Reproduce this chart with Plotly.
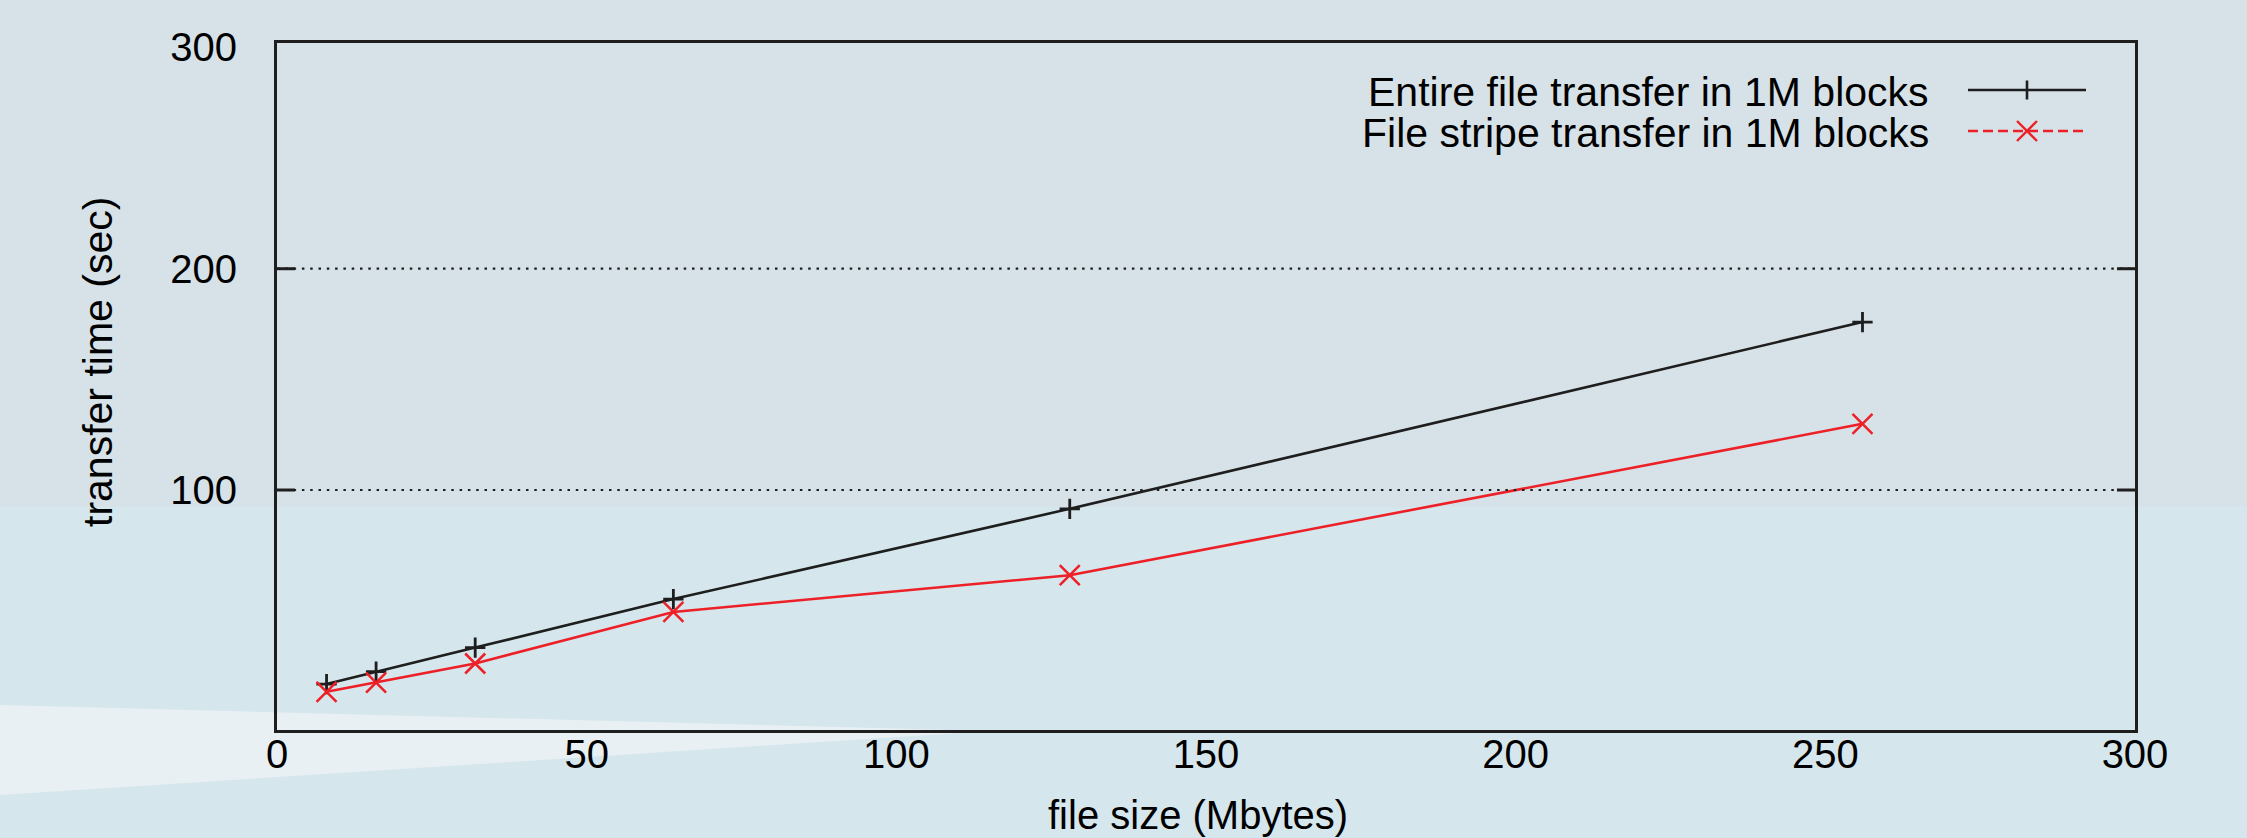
import plotly.graph_objects as go

# ---- data ----
file_size = [8, 16, 32, 64, 128, 256]
entire_file = [12.3, 17.9, 28.8, 50.7, 91.5, 175.9]
file_stripe = [8.8, 13.0, 21.6, 44.9, 61.5, 129.9]
series_names = ["Entire file transfer in 1M blocks", "File stripe transfer in 1M blocks"]
x_ticks = [0, 50, 100, 150, 200, 250, 300]
y_ticks = [100, 200, 300]
grid_values = [100, 200]

# ---- layout geometry (pixels) ----
W, H = 2247, 838
L, R, T, B = 277, 112, 43, 108
PW, PH = W - L - R, H - T - B


def px(xp):
    return (xp - L) / PW


def py(yp):
    return (H - B - yp) / PH


BLACK = "#1e1e1e"
RED = "#ee2027"
FONT = "Liberation Sans, Arial, Helvetica, sans-serif"

fig = go.Figure()
fig.add_trace(go.Scatter(
    x=file_size, y=entire_file, mode="lines+markers", name=series_names[0],
    line=dict(color=BLACK, width=2.6),
    marker=dict(symbol="cross-thin", size=14.5, line=dict(color=BLACK, width=2.8)),
    showlegend=False,
))
fig.add_trace(go.Scatter(
    x=file_size, y=file_stripe, mode="lines+markers", name=series_names[1],
    line=dict(color=RED, width=2.6),
    marker=dict(symbol="x-thin", size=20, line=dict(color=RED, width=2.5)),
    showlegend=False,
))

shapes = []
# background bands
shapes.append(dict(type="rect", xref="paper", yref="paper", layer="below",
                   x0=px(0), x1=px(W), y0=py(507), y1=py(0),
                   line=dict(width=0), fillcolor="#d6e2e7"))
shapes.append(dict(type="path", xref="paper", yref="paper", layer="below",
                   path=f"M {px(0)} {py(705)} L {px(990)} {py(731)} L {px(0)} {py(795)} Z",
                   line=dict(width=0), fillcolor="#e9f0f4"))
# dotted grid + inner ticks
tick_len = 18 / PW
for v in grid_values:
    shapes.append(dict(type="line", xref="paper", yref="y", x0=0, x1=1, y0=v, y1=v,
                       line=dict(color=BLACK, width=2.2, dash="2.5px,5.8px")))
    shapes.append(dict(type="line", xref="paper", yref="y", x0=0, x1=tick_len, y0=v, y1=v,
                       line=dict(color=BLACK, width=3)))
    shapes.append(dict(type="line", xref="paper", yref="y", x0=1 - tick_len, x1=1, y0=v, y1=v,
                       line=dict(color=BLACK, width=3)))

# manual legend (symbols on the right, text right-aligned)
leg_rows = [90, 131]
lx0, lx1, lxc = 1968, 2086, 2027
shapes.append(dict(type="line", xref="paper", yref="paper",
                   x0=px(lx0), x1=px(lx1), y0=py(leg_rows[0]), y1=py(leg_rows[0]),
                   line=dict(color=BLACK, width=2.6)))
shapes.append(dict(type="line", xref="paper", yref="paper",
                   x0=px(lxc), x1=px(lxc), y0=py(leg_rows[0] - 9.5), y1=py(leg_rows[0] + 9.5),
                   line=dict(color=BLACK, width=2.6)))
shapes.append(dict(type="line", xref="paper", yref="paper",
                   x0=px(lx0), x1=px(lx1), y0=py(leg_rows[1]), y1=py(leg_rows[1]),
                   line=dict(color=RED, width=2.6, dash="10px,5px")))
shapes.append(dict(type="path", xref="paper", yref="paper",
                   path=(f"M {px(lxc-10)} {py(leg_rows[1]-10)} L {px(lxc+10)} {py(leg_rows[1]+10)} "
                         f"M {px(lxc-10)} {py(leg_rows[1]+10)} L {px(lxc+10)} {py(leg_rows[1]-10)}"),
                   line=dict(color=RED, width=2.4)))

annotations = []
for name, yrow in zip(series_names, leg_rows):
    annotations.append(dict(xref="paper", yref="paper", x=px(1931), y=py(yrow + 2),
                            xanchor="right", yanchor="middle", showarrow=False, text=name,
                            font=dict(family=FONT, size=41, color="#000")))
annotations.append(dict(xref="paper", yref="paper", x=px(1198), y=py(815),
                        xanchor="center", yanchor="middle", showarrow=False,
                        text="file size (Mbytes)", font=dict(family=FONT, size=40, color="#000")))
annotations.append(dict(xref="paper", yref="paper", x=px(98), y=py(362),
                        xanchor="center", yanchor="middle", showarrow=False, textangle=-90,
                        text="transfer time (sec)", font=dict(family=FONT, size=41, color="#000")))

fig.update_layout(
    width=W, height=H,
    margin=dict(l=L, r=R, t=T, b=B, pad=0),
    paper_bgcolor="#d5e6ed",
    plot_bgcolor="rgba(0,0,0,0)",
    font=dict(family=FONT, size=40, color="#000"),
    shapes=shapes,
    annotations=annotations,
    showlegend=False,
    xaxis=dict(range=[0, 300], tickvals=x_ticks, ticks="", ticklen=0, showgrid=False, zeroline=False,
               showline=True, linecolor=BLACK, linewidth=3, mirror=True,
               ticklabelstandoff=-13, tickfont=dict(family=FONT, size=40, color="#000")),
    yaxis=dict(range=[-8.45, 302.0], tickvals=y_ticks, ticks="", ticklen=0, showgrid=False, zeroline=False,
               showline=True, linecolor=BLACK, linewidth=3, mirror=True,
               ticklabelstandoff=29, tickfont=dict(family=FONT, size=40, color="#000")),
)

fig.write_html("out.html", config={"displayModeBar": False},
               post_script="document.body.style.margin='0px';document.body.style.overflow='hidden';")
